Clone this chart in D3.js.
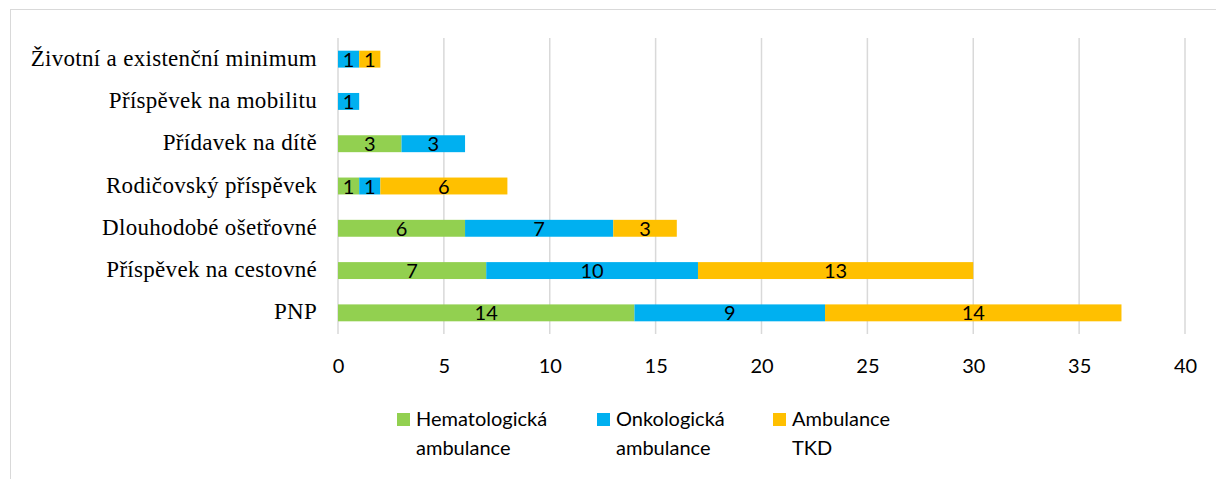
<!DOCTYPE html>
<html>
<head>
<meta charset="utf-8">
<script src="https://cdn.jsdelivr.net/npm/d3@7"></script>
<style>
  body { margin: 0; background: #fff; }
  svg { display: block; }
</style>
</head>
<body>
<svg id="chart" width="1216" height="479"></svg>
<script>
// categories, top to bottom
var categories = [
  "Životní a existenční minimum",
  "Příspěvek na mobilitu",
  "Přídavek na dítě",
  "Rodičovský příspěvek",
  "Dlouhodobé ošetřovné",
  "Příspěvek na cestovné",
  "PNP"
];
var hematologicka = [0, 0, 3, 1, 6, 7, 14];
var onkologicka = [1, 1, 3, 1, 7, 10, 9];
var tkd = [1, 0, 0, 6, 3, 13, 14];

var seriesNames = [["Hematologická", "ambulance"], ["Onkologická", "ambulance"], ["Ambulance", "TKD"]];
var seriesColors = ["#92D050", "#00B0F0", "#FFC000"];
var xTicks = [0, 5, 10, 15, 20, 25, 30, 35, 40];

var sansFont = "Lato, 'Open Sans', sans-serif";
var svg = d3.select("#chart");

// cadre du graphique
svg.append("rect")
  .attr("x", 10.5)
  .attr("y", 9.5)
  .attr("width", 1230)
  .attr("height", 500)
  .attr("fill", "none")
  .attr("stroke", "#d9d9d9");

var x = d3.scaleLinear().domain([0, 40]).range([338, 1185]);
var y = d3.scaleBand().domain(categories).range([38, 334]).paddingInner(0.6).paddingOuter(0.3);

// grille verticale
svg.append("g")
  .selectAll("line")
  .data(xTicks)
  .enter()
  .append("line")
  .attr("x1", d => x(d))
  .attr("x2", d => x(d))
  .attr("y1", 38)
  .attr("y2", 334)
  .attr("stroke", "#d9d9d9")
  .attr("stroke-width", 1.5);

// données empilées
var rows = categories.map((c, i) => ({ cat: c, s0: hematologicka[i], s1: onkologicka[i], s2: tkd[i] }));
var stack = d3.stack().keys(["s0", "s1", "s2"])(rows);

var layers = svg.append("g")
  .selectAll("g")
  .data(stack)
  .enter()
  .append("g")
  .attr("fill", (d, i) => seriesColors[i]);

layers.selectAll("rect")
  .data(d => d)
  .enter()
  .append("rect")
  .attr("x", d => x(d[0]))
  .attr("y", d => y(d.data.cat))
  .attr("width", d => x(d[1]) - x(d[0]))
  .attr("height", y.bandwidth());

// étiquettes des valeurs
layers.selectAll("text")
  .data(d => d.filter(v => v[1] - v[0] > 0))
  .enter()
  .append("text")
  .attr("x", d => (x(d[0]) + x(d[1])) / 2)
  .attr("y", d => y(d.data.cat) + y.bandwidth() / 2 + 7.5)
  .attr("text-anchor", "middle")
  .attr("font-family", sansFont)
  .attr("font-size", "20px")
  .attr("fill", "#000")
  .text(d => d[1] - d[0]);

// axe X
var xAxis = d3.axisBottom(x).tickValues(xTicks).tickSize(0).tickPadding(0);
var gx = svg.append("g")
  .attr("transform", "translate(0, 373)")
  .call(xAxis);
gx.select(".domain").remove();
gx.selectAll("text")
  .attr("font-family", sansFont)
  .attr("font-size", "20px")
  .attr("fill", "#000")
  .attr("dy", 0);

// étiquettes des catégories
svg.append("g")
  .selectAll("text")
  .data(categories)
  .enter()
  .append("text")
  .attr("x", 317)
  .attr("y", d => y(d) + y.bandwidth() / 2 + 6.5)
  .attr("text-anchor", "end")
  .attr("font-family", "'Liberation Serif', 'Times New Roman', serif")
  .attr("font-size", "23px")
  .attr("letter-spacing", "0.3px")
  .attr("fill", "#000")
  .text(d => d);

// légende
var legendX = [397, 597, 773];
var legend = svg.append("g")
  .selectAll("g")
  .data(seriesNames)
  .enter()
  .append("g")
  .attr("transform", (d, i) => "translate(" + legendX[i] + ", 413)");

legend.append("rect")
  .attr("width", 13)
  .attr("height", 13)
  .attr("fill", (d, i) => seriesColors[i]);

legend.append("text")
  .attr("x", 19)
  .attr("y", 13)
  .attr("font-family", sansFont)
  .attr("font-size", "20px")
  .attr("fill", "#000")
  .selectAll("tspan")
  .data(d => d)
  .enter()
  .append("tspan")
  .attr("x", 19)
  .attr("dy", (d, i) => i === 0 ? 0 : 29)
  .text(d => d);
</script>
</body>
</html>
